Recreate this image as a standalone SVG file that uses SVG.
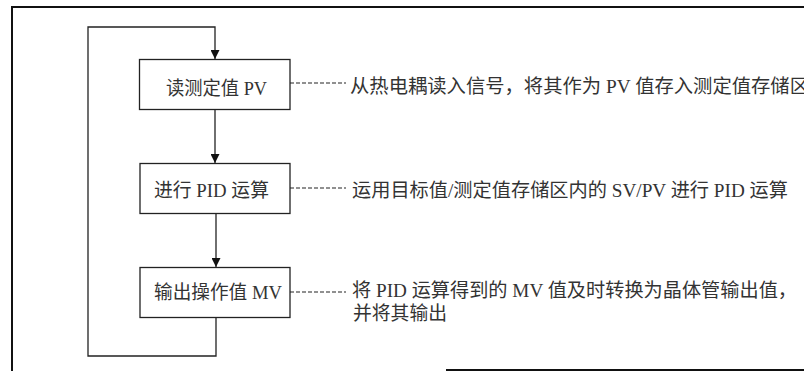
<svg xmlns="http://www.w3.org/2000/svg" width="804" height="371" viewBox="0 0 804 371">
<defs>
<style>
.frame{fill:none;stroke:#111;stroke-width:2}
.box{fill:#fff;stroke:#222;stroke-width:1.3}
.ln{fill:none;stroke:#222;stroke-width:1.3}
.dash{fill:none;stroke:#222;stroke-width:1.2;stroke-dasharray:4 2}
.t{font-family:"Liberation Serif","Noto Sans CJK SC",serif;font-size:19px;fill:#333}
</style>
<marker id="arr" viewBox="0 0 10 10" refX="10" refY="5" markerWidth="9" markerHeight="9" markerUnits="userSpaceOnUse" orient="auto">
<path d="M0,0 L10,5 L0,10 Z" fill="#111"/>
</marker>
</defs>
<rect width="804" height="371" fill="#fff"/>
<g id="frame">
<path class="frame" d="M12,371 V7 H804"/>
<path class="frame" d="M446,370 H804"/>
</g>
<g id="connectors">
<path class="ln" d="M216,318 V356 H88 V27 H215 V59" marker-end="url(#arr)"/>
<path class="ln" d="M215,109 V163" marker-end="url(#arr)"/>
<path class="ln" d="M216,213 V267" marker-end="url(#arr)"/>
<path class="dash" d="M290,83 H346"/>
<path class="dash" d="M290,188 H346"/>
<path class="dash" d="M290,292 H346"/>
</g>
<g id="node-read">
<rect class="box" x="139.5" y="59.5" width="150.5" height="50"/>
<text class="t" x="166" y="95" textLength="101" lengthAdjust="spacingAndGlyphs">读测定值 PV</text>
</g>
<g id="node-pid">
<rect class="box" x="140" y="163.5" width="150" height="50"/>
<text class="t" x="154" y="197" textLength="115" lengthAdjust="spacingAndGlyphs">进行 PID 运算</text>
</g>
<g id="node-output">
<rect class="box" x="140" y="267.5" width="150" height="50"/>
<text class="t" x="154" y="299" textLength="128" lengthAdjust="spacingAndGlyphs">输出操作值 MV</text>
</g>
<g id="notes">
<text class="t" x="350" y="93" textLength="459" lengthAdjust="spacingAndGlyphs">从热电耦读入信号，将其作为 PV 值存入测定值存储区</text>
<text class="t" x="352" y="197" textLength="436" lengthAdjust="spacingAndGlyphs">运用目标值/测定值存储区内的 SV/PV 进行 PID 运算</text>
<text class="t" x="352" y="297" textLength="445" lengthAdjust="spacingAndGlyphs">将 PID 运算得到的 MV 值及时转换为晶体管输出值，</text>
<text class="t" x="353" y="320" textLength="94" lengthAdjust="spacingAndGlyphs">并将其输出</text>
</g>
</svg>
